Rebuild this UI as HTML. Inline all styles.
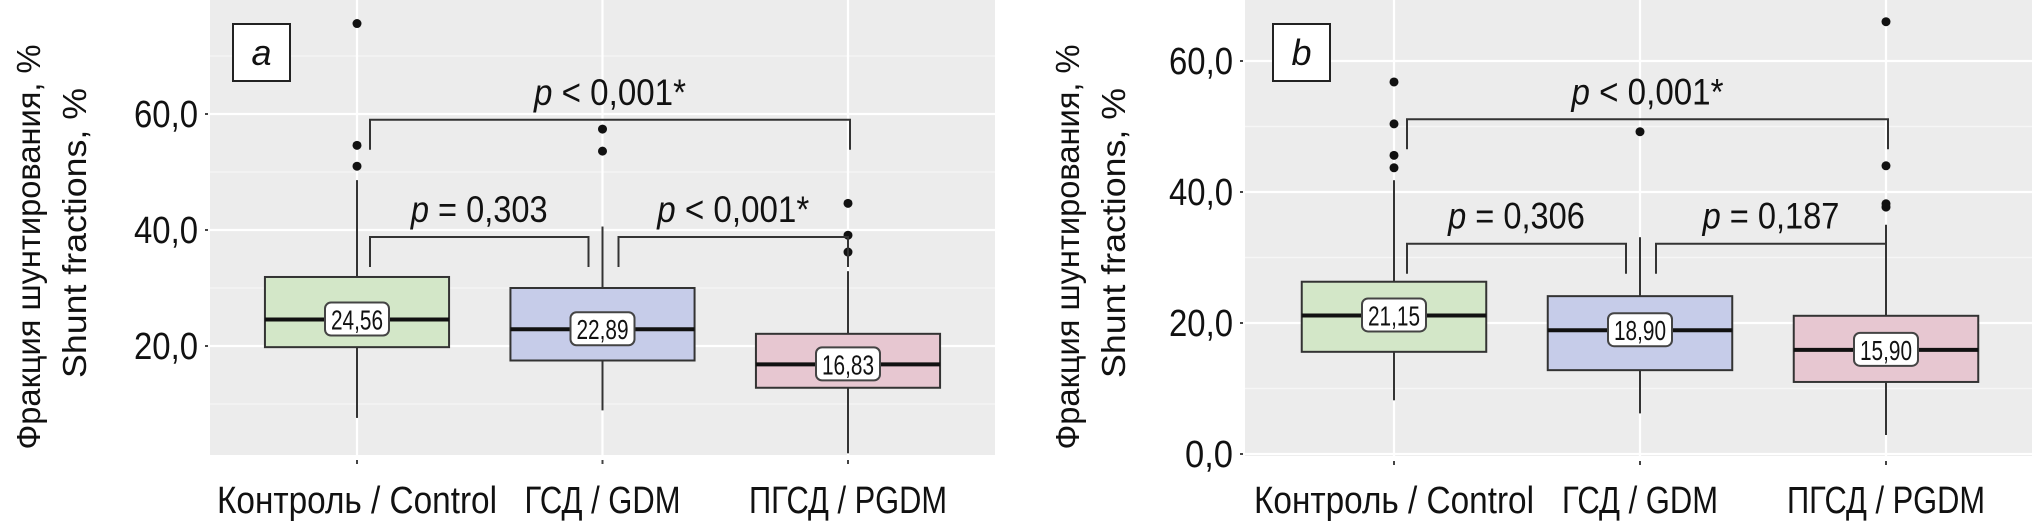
<!DOCTYPE html>
<html><head><meta charset="utf-8">
<style>
html,body{margin:0;padding:0;background:#fff;}
svg{display:block;}
text{font-family:"Liberation Sans Narrow","Liberation Sans",sans-serif;fill:#111;}
</style></head>
<body>
<svg id="chart" width="2032" height="526" viewBox="0 0 2032 526" xmlns="http://www.w3.org/2000/svg"></svg>
<script>
// ---- data ----
const categories = ["Контроль / Control", "ГСД / GDM", "ПГСД / PGDM"];
const medianLabelsA = ["24,56", "22,89", "16,83"];
const medianLabelsB = ["21,15", "18,90", "15,90"];
// [lowWhisker, q1, median, q3, highWhisker]
const boxesA = [[7.6, 19.8, 24.56, 31.9, 48.6], [8.9, 17.5, 22.89, 30.0, 40.6], [1.5, 12.8, 16.83, 22.1, 32.9]];
const boxesB = [[8.2, 15.6, 21.15, 26.3, 41.8], [6.2, 12.8, 18.90, 24.1, 33.1], [2.9, 11.0, 15.90, 21.1, 35.0]];
const outliersA = [[51.0, 54.6, 75.6], [53.6, 57.4], [36.2, 39.1, 44.6]];
const outliersB = [[43.7, 45.6, 50.4, 56.8], [49.2], [37.7, 38.2, 44.0, 66.0]];
const yTicksA = [20, 40, 60];
const yTickLabelsA = ["20,0", "40,0", "60,0"];
const yTicksB = [0, 20, 40, 60];
const yTickLabelsB = ["0,0", "20,0", "40,0", "60,0"];
// comparisons: [fromIndex, toIndex, barValue, label]
const compsA = [[0, 2, 59.0, "p < 0,001*"], [0, 1, 38.8, "p = 0,303"], [1, 2, 38.8, "p < 0,001*"]];
const compsB = [[0, 2, 51.1, "p < 0,001*"], [0, 1, 32.1, "p = 0,306"], [1, 2, 32.1, "p = 0,187"]];

const NS = "http://www.w3.org/2000/svg";
const svg = document.getElementById("chart");
function mk(tag, attrs, parent) {
  const e = document.createElementNS(NS, tag);
  for (const k in attrs) e.setAttribute(k, attrs[k]);
  (parent || svg).appendChild(e);
  return e;
}
const fills = ["#d3e7c8", "#c6cce9", "#e7c7d1"];

function panel(cfg) {
  const g = mk("g", {});
  
  
  const y = v => cfg.y0 + (v - cfg.v0) * cfg.k;
  const x = i => cfg.cx0 + i * cfg.step;
  const bg = mk("rect", {x: cfg.left, y: 0, width: cfg.right - cfg.left, height: cfg.bottom, fill: "#ececec"}, g);
  
  
  for (let v = -10; v <= 90; v += 10) {
    const yy = y(v);
    if (yy < 0 || yy > cfg.bottom) continue;
    const major = v % 20 === 0;
    const gl = mk("line", {x1: cfg.left, x2: cfg.right, y1: yy, y2: yy, stroke: major ? "#fff" : "#f6f6f6", "stroke-width": major ? 2.2 : 1.2}, g);
    
    
  }
  categories.forEach((c, i) => {
    const vl = mk("line", {x1: x(i), x2: x(i), y1: 0, y2: cfg.bottom, stroke: "#fff", "stroke-width": 2.2}, g);
    
    
  });
  cfg.yTicks.forEach((v, i) => {
    const t = mk("line", {x1: cfg.left - 5, x2: cfg.left - 2, y1: y(v), y2: y(v), stroke: "#444", "stroke-width": 2}, g);
    
    
    const lbl = cfg.yTickLabels[i];
    const tx = mk("text", {x: cfg.left - 12, y: y(v) + 13, "font-size": 38, "text-anchor": "end", textLength: lbl.length * 16, lengthAdjust: "spacingAndGlyphs"}, g);
    tx.textContent = lbl;
    
    
  });
  const t1 = mk("text", {x: 0, y: 0, "font-size": 33, "text-anchor": "middle", textLength: 405, lengthAdjust: "spacingAndGlyphs", transform: `translate(${cfg.titleX1},247) rotate(-90)`, style: 'font-family:"Liberation Sans",sans-serif'}, g);
  t1.textContent = "Фракция шунтирования, %";
  
  
  const t2 = mk("text", {x: 0, y: 0, "font-size": 33, "text-anchor": "middle", textLength: 290, lengthAdjust: "spacingAndGlyphs", transform: `translate(${cfg.titleX2},233) rotate(-90)`, style: 'font-family:"Liberation Sans",sans-serif'}, g);
  t2.textContent = "Shunt fractions, %";
  
  
  const xw = [280, 156, 198];
  categories.forEach((c, i) => {
    const t = mk("line", {x1: x(i), x2: x(i), y1: cfg.bottom + 5, y2: cfg.bottom + 9, stroke: "#444", "stroke-width": 2}, g);
    
    
    const lab = mk("text", {x: x(i), y: 513, "font-size": 38, "text-anchor": "middle", textLength: xw[i], lengthAdjust: "spacingAndGlyphs"}, g);
    lab.textContent = c;
    
    
  });
  const hw = cfg.step * 0.375;
  cfg.boxes.forEach((b, i) => {
    const bx = mk("g", {}, g);
    
    
    mk("line", {x1: x(i), x2: x(i), y1: y(b[0]), y2: y(b[1]), stroke: "#333", "stroke-width": 2}, bx);
    mk("line", {x1: x(i), x2: x(i), y1: y(b[3]), y2: y(b[4]), stroke: "#333", "stroke-width": 2}, bx);
    mk("rect", {x: x(i) - hw, y: y(b[3]), width: 2 * hw, height: y(b[1]) - y(b[3]), fill: fills[i], stroke: "#333", "stroke-width": 2}, bx);
    mk("line", {x1: x(i) - hw, x2: x(i) + hw, y1: y(b[2]), y2: y(b[2]), stroke: "#111", "stroke-width": 4}, bx);
    const lr = mk("rect", {x: x(i) - 32, y: y(b[2]) - 17, width: 64, height: 33, rx: 6, fill: "#fff", stroke: "#444", "stroke-width": 2}, bx);
    
    
    const lt = mk("text", {x: x(i), y: y(b[2]) + 10, "font-size": 28, "text-anchor": "middle", textLength: 52, lengthAdjust: "spacingAndGlyphs"}, bx);
    lt.textContent = cfg.medianLabels[i];
    
    
  });
  cfg.outliers.forEach((arr, i) => {
    arr.forEach(v => {
      const c = mk("circle", {cx: x(i), cy: y(v), r: 4.5, fill: "#111"}, g);
      
      
    });
  });
  cfg.comps.forEach((c, j) => {
    const a = x(c[0]) + (j === 2 ? 16 : 13), b = x(c[1]) - (j === 1 ? 14 : 0) + (j === 0 ? 2 : 0);
    const by = y(c[2]);
    const leg = 30;
    const br = mk("path", {d: `M${a},${by + leg} V${by} H${b} V${by + leg}`, fill: "none", stroke: "#333", "stroke-width": 2}, g);
    
    
    const tw = c[3].length * 15.2;
    const pt = mk("text", {x: (a + b) / 2, y: by - 15, "font-size": 37, "text-anchor": "middle", textLength: tw, lengthAdjust: "spacingAndGlyphs"}, g);
    const ps = mk("tspan", {"font-style": "italic"}, pt);
    ps.textContent = "p";
    const rest = mk("tspan", {}, pt);
    rest.textContent = c[3].slice(1);
    
    
  });
  const lb = mk("rect", {x: cfg.letterX, y: 24, width: 57, height: 57, fill: "#fff", stroke: "#222", "stroke-width": 2}, g);
  
  
  const lt = mk("text", {x: cfg.letterX + 28.5, y: 65, "font-size": 36, "font-style": "italic", "text-anchor": "middle"}, g);
  lt.textContent = cfg.letter;
  
  
}

panel({name: "panel-a", left: 210, right: 995, bottom: 455, y0: 346, v0: 20, k: -5.8,
  cx0: 357, step: 245.5, boxes: boxesA, outliers: outliersA, comps: compsA,
  yTicks: yTicksA, yTickLabels: yTickLabelsA, medianLabels: medianLabelsA,
  titleX1: 40, titleX2: 86, letterX: 233, letter: "a"});
panel({name: "panel-b", left: 1245, right: 2032, bottom: 456, y0: 454, v0: 0, k: -6.55,
  cx0: 1394, step: 246, boxes: boxesB, outliers: outliersB, comps: compsB,
  yTicks: yTicksB, yTickLabels: yTickLabelsB, medianLabels: medianLabelsB,
  titleX1: 1079, titleX2: 1125, letterX: 1273, letter: "b"});
</script>
</body></html>
